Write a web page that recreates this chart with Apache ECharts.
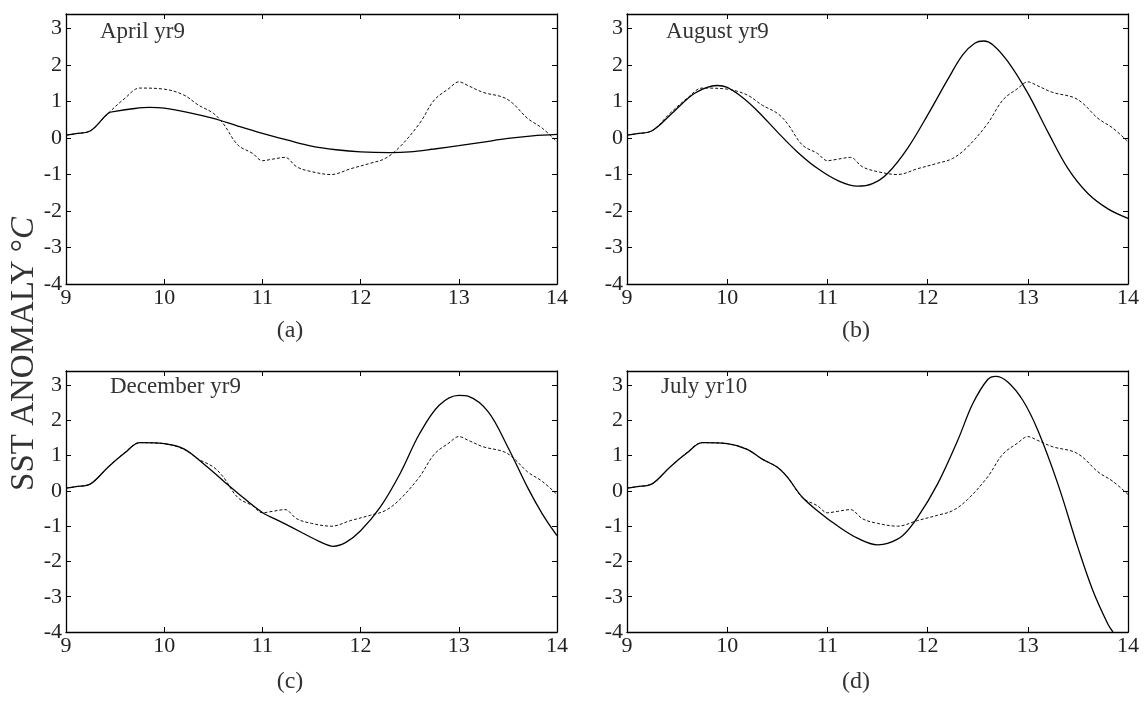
<!DOCTYPE html>
<html>
<head>
<meta charset="utf-8">
<script src="https://cdn.jsdelivr.net/npm/echarts@6/dist/echarts.min.js"></script>
<style>html,body{margin:0;padding:0;background:#fff;}#c{width:1148px;height:702px;}</style>
</head>
<body>
<div id="c"></div>
<script>
// ---- DATA ----
const panelTitles = ['April yr9', 'August yr9', 'December yr9', 'July yr10'];
const panelLetters = ['(a)', '(b)', '(c)', '(d)'];
const xTicks = [9, 10, 11, 12, 13, 14];
const yTicks = [-4, -3, -2, -1, 0, 1, 2, 3];

// observed SST anomaly (dashed), same in all panels
const observed = [
  [9.0, 0.08], [9.1, 0.12], [9.25, 0.2], [9.43, 0.68], [9.6, 1.09], [9.75, 1.37], [10.0, 1.34],
  [10.2, 1.18], [10.35, 0.9], [10.5, 0.68], [10.6, 0.4], [10.75, -0.19], [10.9, -0.42],
  [11.0, -0.62], [11.1, -0.58], [11.23, -0.53], [11.35, -0.79], [11.5, -0.92], [11.7, -1.0],
  [11.9, -0.84], [12.1, -0.69], [12.25, -0.56], [12.4, -0.24], [12.6, 0.4], [12.75, 1.04],
  [12.9, 1.36], [13.0, 1.54], [13.1, 1.43], [13.25, 1.25], [13.45, 1.12], [13.55, 0.95],
  [13.7, 0.54], [13.85, 0.27], [14.0, -0.1]
];

// forecasts (solid)
const fcApril = [
  [9.0, 0.08], [9.1, 0.12], [9.25, 0.2], [9.43, 0.68], [9.5, 0.73], [9.7, 0.81], [9.85, 0.84],
  [10.0, 0.82], [10.25, 0.7], [10.5, 0.54], [10.75, 0.33], [11.0, 0.13], [11.25, -0.05],
  [11.5, -0.22], [11.75, -0.32], [12.0, -0.38], [12.3, -0.4], [12.5, -0.38], [12.75, -0.3],
  [13.0, -0.21], [13.25, -0.11], [13.5, -0.01], [13.75, 0.06], [14.0, 0.1]
];
const fcAugust = [
  [9.0, 0.08], [9.1, 0.12], [9.25, 0.2], [9.45, 0.68], [9.65, 1.18], [9.8, 1.39], [9.9, 1.44],
  [10.0, 1.39], [10.15, 1.12], [10.3, 0.75], [10.5, 0.17], [10.7, -0.38], [10.9, -0.83],
  [11.1, -1.16], [11.3, -1.32], [11.45, -1.25], [11.6, -0.97], [11.8, -0.28], [12.0, 0.63],
  [12.2, 1.6], [12.35, 2.28], [12.47, 2.6], [12.56, 2.66], [12.65, 2.56], [12.8, 2.1],
  [13.0, 1.23], [13.2, 0.17], [13.4, -0.83], [13.6, -1.52], [13.8, -1.94], [14.0, -2.2]
];
const fcDecember = [
  [9.0, 0.08], [9.1, 0.12], [9.25, 0.2], [9.43, 0.68], [9.6, 1.08], [9.75, 1.37], [10.0, 1.34],
  [10.2, 1.19], [10.4, 0.77], [10.6, 0.29], [10.8, -0.18], [11.0, -0.61], [11.2, -0.89],
  [11.4, -1.18], [11.6, -1.46], [11.72, -1.57], [11.85, -1.46], [12.0, -1.13], [12.2, -0.46],
  [12.4, 0.48], [12.6, 1.62], [12.8, 2.43], [13.0, 2.71], [13.1, 2.68], [13.3, 2.24],
  [13.5, 1.24], [13.7, 0.1], [13.85, -0.65], [14.0, -1.27]
];
const fcJuly = [
  [9.0, 0.08], [9.1, 0.12], [9.25, 0.2], [9.43, 0.68], [9.6, 1.08], [9.75, 1.37], [10.0, 1.34],
  [10.2, 1.18], [10.35, 0.9], [10.5, 0.67], [10.6, 0.39], [10.75, -0.18], [10.9, -0.56],
  [11.1, -0.99], [11.3, -1.34], [11.5, -1.53], [11.6, -1.49], [11.75, -1.27], [11.9, -0.75],
  [12.1, 0.2], [12.3, 1.43], [12.45, 2.47], [12.6, 3.16], [12.68, 3.25], [12.8, 3.09],
  [12.95, 2.57], [13.1, 1.72], [13.3, 0.2], [13.5, -1.6], [13.65, -2.83], [13.8, -3.78],
  [13.85, -4.0]
];
const forecasts = [fcApril, fcAugust, fcDecember, fcJuly];

// ---- CHART ----
const SERIF = '"Liberation Serif", "DejaVu Serif", serif';
const grids = [
  { left: 66, top: 14, width: 491, height: 270 },
  { left: 627, top: 14, width: 501, height: 270 },
  { left: 66, top: 371, width: 491, height: 261 },
  { left: 627, top: 371, width: 501, height: 261 }
];
const xAxes = [], yAxes = [], series = [], graphics = [];
grids.forEach((g, i) => {
  const axLine = { show: true, onZero: false, lineStyle: { color: '#000', width: 1.3 } };
  const tick = { show: true, inside: true, length: 5, lineStyle: { color: '#000', width: 1 } };
  xAxes.push({
    gridIndex: i, type: 'value', min: xTicks[0], max: xTicks[xTicks.length - 1], interval: 1,
    position: 'bottom', axisLine: axLine, axisTick: tick, splitLine: { show: false },
    axisLabel: { color: '#222', fontFamily: SERIF, fontSize: 22, margin: 3 }
  });
  xAxes.push({
    gridIndex: i, type: 'value', min: xTicks[0], max: xTicks[xTicks.length - 1], interval: 1,
    position: 'top', axisLine: axLine, axisTick: tick, splitLine: { show: false },
    axisLabel: { show: false }
  });
  yAxes.push({
    gridIndex: i, type: 'value', min: yTicks[0], max: 3.4, interval: 1,
    position: 'left', axisLine: axLine, axisTick: tick, splitLine: { show: false },
    axisLabel: { color: '#222', fontFamily: SERIF, fontSize: 22, margin: 4, showMaxLabel: false,
      formatter: v => (Number.isInteger(v) ? String(v) : '') }
  });
  yAxes.push({
    gridIndex: i, type: 'value', min: yTicks[0], max: 3.4, interval: 1,
    position: 'right', axisLine: axLine, axisTick: tick, splitLine: { show: false },
    axisLabel: { show: false }
  });
  series.push({
    type: 'line', xAxisIndex: 2 * i, yAxisIndex: 2 * i, data: observed, smooth: 0.35,
    showSymbol: false, silent: true, z: 2,
    lineStyle: { color: '#111', width: 1, type: [3, 2] }
  });
  series.push({
    type: 'line', xAxisIndex: 2 * i, yAxisIndex: 2 * i, data: forecasts[i], smooth: 0.35,
    showSymbol: false, silent: true, z: 3, clip: true,
    lineStyle: { color: '#000', width: 1.3 }
  });
});

const titlePos = [[100, 32], [666, 32], [110, 387], [661, 387]];
const letterPos = [[290, 331], [856, 331], [290, 682], [856, 682]];
panelTitles.forEach((t, i) => {
  graphics.push({ type: 'text', x: titlePos[i][0], y: titlePos[i][1],
    style: { text: t, fill: '#333', font: '23px ' + SERIF, textVerticalAlign: 'middle' } });
  graphics.push({ type: 'text', x: letterPos[i][0], y: letterPos[i][1],
    style: { text: panelLetters[i], fill: '#333', font: '24px ' + SERIF,
      textAlign: 'center', textVerticalAlign: 'middle' } });
});
graphics.push({
  type: 'text', x: 24, y: 354, rotation: Math.PI / 2,
  style: {
    text: '{n|SST ANOMALY °}{i|C}', textAlign: 'center', textVerticalAlign: 'middle',
    rich: {
      n: { fontFamily: SERIF, fontSize: 33, fill: '#333' },
      i: { fontFamily: SERIF, fontSize: 33, fontStyle: 'italic', fill: '#333' }
    }
  }
});

const chart = echarts.init(document.getElementById('c'), null, { renderer: 'canvas' });
chart.setOption({
  animation: false,
  backgroundColor: '#fff',
  grid: grids,
  xAxis: xAxes,
  yAxis: yAxes,
  series: series,
  graphic: graphics
});
</script>
</body>
</html>
